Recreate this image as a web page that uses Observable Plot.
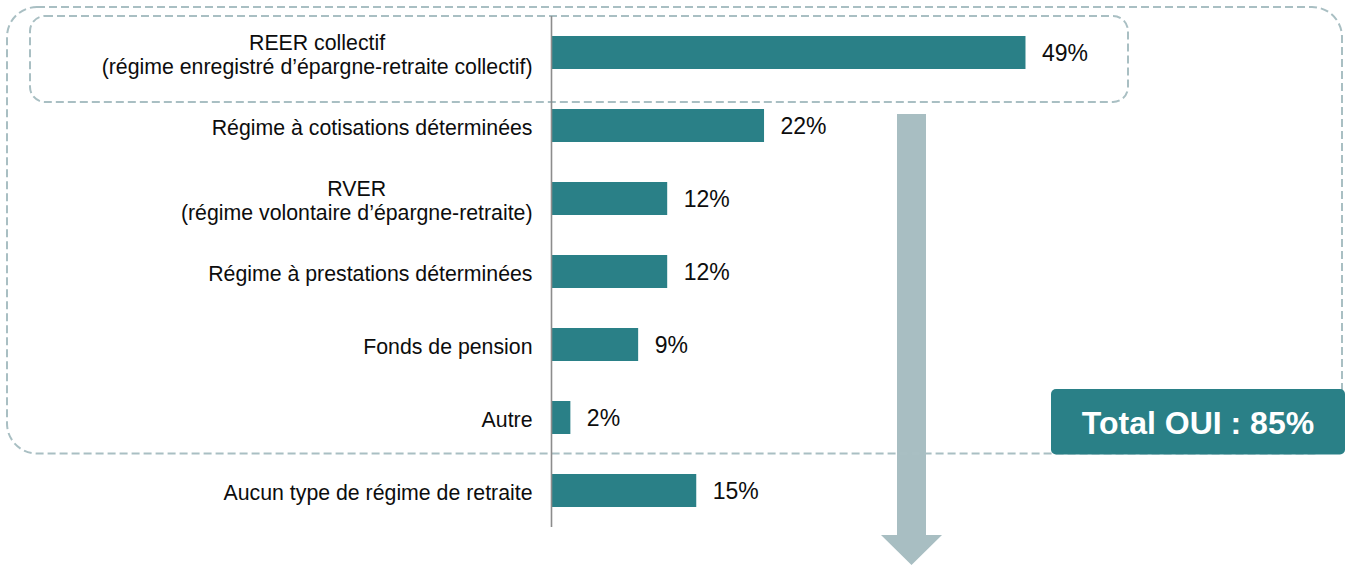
<!DOCTYPE html>
<html>
<head>
<meta charset="utf-8">
<script src="https://cdn.jsdelivr.net/npm/d3@7"></script>
<script src="https://cdn.jsdelivr.net/npm/@observablehq/plot@0.6"></script>
<style>
  html, body { margin: 0; padding: 0; background: #fff; }
  #chart { width: 1346px; height: 565px; }
</style>
</head>
<body>
<div id="chart"></div>
<script>
// ---- Data ----
const categories = [
  "REER collectif\n(régime enregistré d’épargne-retraite collectif)",
  "Régime à cotisations déterminées",
  "RVER\n(régime volontaire d’épargne-retraite)",
  "Régime à prestations déterminées",
  "Fonds de pension",
  "Autre",
  "Aucun type de régime de retraite"
];
const values = [49, 22, 12, 12, 9, 2, 15];
const totalLabel = "Total OUI : 85%";

// ---- Styles ----
const FONT = "'Liberation Sans', Arial, Helvetica, sans-serif";
const TEAL = "#2a8087";
const GREY = "#a9bfc3";
const LABEL_SIZE = 21.3;
const VALUE_SIZE = 23;

const rows = categories.map((c, i) => ({cat: c, value: values[i]}));

// measure label widths to right-align multi-line blocks with centered lines
const ctx = document.createElement("canvas").getContext("2d");
ctx.font = `${LABEL_SIZE}px ${FONT}`;
const blockWidth = c => d3.max(c.split("\n"), l => ctx.measureText(l).width);

const labelMarks = categories.map(c =>
  Plot.text([c], {
    x: () => 0, y: d => d, text: d => d,
    textAnchor: "middle", lineHeight: 1.12,
    dx: -19 - blockWidth(c) / 2, dy: 1,
    fontSize: LABEL_SIZE, fill: "#0d0d0d"
  })
);

const plot = Plot.plot({
  width: 1346,
  height: 565,
  marginLeft: 551,
  marginRight: 214,
  marginTop: 16,
  marginBottom: 38,
  style: {fontFamily: FONT, fontSize: LABEL_SIZE + "px", background: "transparent", color: "#0d0d0d", overflow: "visible"},
  x: {axis: null, domain: [0, 60]},
  y: {axis: null, domain: categories, paddingInner: 0.548, paddingOuter: 0.274},
  marks: [
    Plot.barX(rows, {x: "value", y: "cat", fill: TEAL}),
    Plot.ruleX([0], {stroke: "#8c8c8c", strokeWidth: 1.6}),
    Plot.text(rows, {x: "value", y: "cat", text: d => d.value + "%", textAnchor: "start", dx: 16, dy: 1, fontSize: VALUE_SIZE, fill: "#0d0d0d"}),
    ...labelMarks
  ]
});

document.getElementById("chart").appendChild(plot);

// ---- Annotations (dashed groupings, arrow, total box) ----
const svg = d3.select(plot);
const yS = plot.scale("y");
const xS = plot.scale("x");
const bw = yS.bandwidth;
const step = yS.step;

const deco = svg.insert("g", ":first-child");

// arrow
const ax0 = xS.apply(0) + 346, aw = 29, headW = 61;
const aTop = yS.apply(categories[1]) + 5;
const aHead = 535, aTip = 565;
const acx = ax0 + aw / 2;
deco.append("path")
  .attr("d", `M${ax0},${aTop}H${ax0 + aw}V${aHead}H${acx + headW / 2}L${acx},${aTip}L${acx - headW / 2},${aHead}H${ax0}Z`)
  .attr("fill", "#a8bec2");

// outer dashed (all "yes" answers)
const outerBottom = yS.apply(categories[5]) + bw + (step - bw) / 2 - 0.5;
deco.append("rect")
  .attr("x", 7).attr("y", 7)
  .attr("width", 1342 - 7).attr("height", outerBottom - 7)
  .attr("rx", 30).attr("ry", 30)
  .attr("fill", "none").attr("stroke", GREY).attr("stroke-width", 2)
  .attr("stroke-dasharray", "8,4");

// inner dashed (first row)
const innerTop = 16;
const innerBottom = yS.apply(categories[0]) + bw + 33;
deco.append("rect")
  .attr("x", 30).attr("y", innerTop)
  .attr("width", 1128 - 30).attr("height", innerBottom - innerTop)
  .attr("rx", 15).attr("ry", 15)
  .attr("fill", "none").attr("stroke", GREY).attr("stroke-width", 2)
  .attr("stroke-dasharray", "8,4");

// total box on top
const box = svg.append("g");
const bx0 = 1051, bx1 = 1345, by0 = 389, by1 = outerBottom + 1;
box.append("rect")
  .attr("x", bx0).attr("y", by0).attr("width", bx1 - bx0).attr("height", by1 - by0)
  .attr("rx", 5).attr("fill", TEAL);
box.append("text")
  .attr("x", (bx0 + bx1) / 2).attr("y", (by0 + by1) / 2 + 1)
  .attr("text-anchor", "middle").attr("dominant-baseline", "central")
  .attr("fill", "#fff").attr("font-weight", "bold").attr("font-size", 32)
  .attr("font-family", FONT)
  .text(totalLabel);
</script>
</body>
</html>
